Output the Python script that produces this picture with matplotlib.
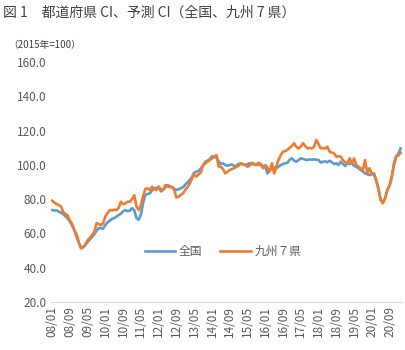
import matplotlib.pyplot as plt
import numpy as np

plt.rcParams["font.family"] = ["Noto Sans CJK JP", "DejaVu Sans"]

# 月次データ 2008/01 - 2021/02
zenkoku = [
    73.6, 73.4, 73.5, 72.8, 72.0, 71.2, 70.0, 68.8, 67.0, 64.5, 62.0, 58.0,   # 2008
    54.5, 51.5, 52.0, 53.5, 55.0, 56.5, 58.0, 59.5, 61.5, 63.2, 63.0, 62.8,   # 2009
    65.0, 66.5, 67.5, 68.5, 69.0, 69.8, 70.8, 71.5, 73.0, 73.6, 73.0, 73.3,   # 2010
    74.8, 73.5, 69.0, 68.0, 71.0, 78.0, 82.4, 83.0, 83.4, 85.0, 86.3, 86.5,   # 2011
    87.2, 84.5, 85.5, 86.8, 88.2, 87.5, 87.0, 86.0, 85.3, 85.8, 86.3, 87.0,   # 2012
    88.5, 89.8, 91.2, 93.0, 95.5, 96.0, 96.5, 98.0, 99.5, 101.8, 102.5, 103.2,  # 2013
    105.0, 104.4, 104.8, 102.0, 100.5, 100.9, 99.9, 99.5, 99.9, 100.2, 99.3, 99.5,  # 2014
    100.5, 100.9, 100.3, 99.9, 100.4, 100.9, 100.6, 100.2, 100.5, 100.0, 99.9, 99.3,  # 2015
    99.0, 95.0, 97.0, 98.0, 98.3, 98.0, 99.0, 99.9, 100.5, 100.9, 101.2, 103.0,  # 2016
    103.8, 102.5, 101.8, 102.8, 103.8, 103.5, 103.0, 102.8, 103.2, 103.0, 103.2, 103.0,  # 2017
    102.8, 101.3, 101.8, 102.0, 101.5, 102.4, 101.5, 100.5, 100.9, 99.9, 101.8, 100.5,  # 2018
    99.3, 100.9, 100.5, 100.9, 99.5, 98.9, 98.0, 97.0, 96.0, 95.0, 94.5, 94.0,  # 2019
    94.7, 95.0, 91.2, 86.3, 79.5, 78.0, 80.5, 85.3, 88.2, 93.0, 101.0, 105.0,  # 2020
    106.5, 109.6,  # 2021
]
kyushu = [
    79.1, 78.0, 77.2, 76.5, 75.8, 72.5, 71.3, 70.5, 67.5, 65.5, 62.0, 59.5,   # 2008
    55.0, 51.3, 52.0, 53.5, 56.0, 57.5, 59.0, 61.0, 66.0, 65.5, 64.8, 66.0,   # 2009
    70.0, 72.0, 73.6, 73.5, 73.8, 73.6, 75.0, 78.5, 77.0, 77.6, 78.5, 78.5,   # 2010
    80.0, 82.4, 75.6, 73.6, 76.6, 82.0, 86.0, 86.3, 85.3, 87.2, 86.0, 85.3,   # 2011
    87.2, 85.8, 85.3, 88.2, 87.5, 87.0, 87.2, 85.3, 81.0, 81.4, 82.5, 83.4,   # 2012
    85.5, 87.0, 89.2, 92.0, 94.5, 93.1, 94.5, 95.5, 99.9, 100.8, 101.8, 102.8,  # 2013
    103.8, 104.8, 105.7, 99.0, 98.9, 97.5, 95.0, 96.0, 97.0, 97.5, 98.0, 98.9,  # 2014
    99.5, 100.9, 100.2, 99.9, 98.9, 99.5, 101.3, 100.5, 99.9, 101.3, 100.5, 98.0,  # 2015
    99.9, 98.5, 96.0, 100.9, 95.0, 98.9, 103.0, 105.7, 107.7, 108.0, 108.7, 110.0,  # 2016
    111.0, 112.6, 110.5, 109.6, 110.6, 112.6, 111.0, 109.6, 109.8, 109.6, 110.6, 114.5,  # 2017
    112.0, 109.6, 109.8, 109.6, 110.6, 107.7, 107.1, 106.7, 104.8, 105.0, 104.8, 102.8,  # 2018
    101.5, 100.9, 103.8, 100.9, 103.8, 99.9, 98.9, 98.0, 97.0, 102.8, 95.0, 98.0,  # 2019
    95.0, 94.0, 91.0, 85.5, 79.5, 77.6, 80.5, 85.3, 87.7, 93.1, 100.0, 104.8,  # 2020
    105.5, 107.1,  # 2021
]
tick_labels = ["08/01", "08/09", "09/05", "10/01", "10/09", "11/05", "12/01",
               "12/09", "13/05", "14/01", "14/09", "15/05", "16/01", "16/09",
               "17/05", "18/01", "18/09", "19/05", "20/01", "20/09"]
tick_step = 8

x = np.arange(len(zenkoku))
grey = "#595959"

fig = plt.figure(figsize=(4.05, 3.5), dpi=100)
ax = fig.add_axes([0.126, 0.137, 0.866, 0.686])

ax.plot(x, zenkoku, color="#5B9BD5", lw=1.9, label="全国", solid_joinstyle="round")
ax.plot(x, kyushu, color="#ED7D31", lw=1.9, label="九州７県", solid_joinstyle="round")

ax.set_xlim(-0.5, len(x) - 0.5)
ax.set_ylim(20, 160)
ax.set_yticks(np.arange(20, 161, 20))
ax.set_yticklabels(["%.1f" % v for v in np.arange(20, 161, 20)], fontsize=8.5, color=grey)
ax.set_xticks(x[::tick_step][:len(tick_labels)])
ax.set_xticklabels(tick_labels, rotation=90, fontsize=8.5, color=grey)
ax.tick_params(length=0, pad=3)

for s in ["top", "right", "left"]:
    ax.spines[s].set_visible(False)
ax.spines["bottom"].set_color("#d9d9d9")

ax.legend(loc="center", bbox_to_anchor=(0.49, 0.21), ncol=2, frameon=False,
          fontsize=8.5, labelcolor=grey, handlelength=2.6, columnspacing=1.5,
          handletextpad=0.3)

fig.text(0.008, 0.963, "図 1　都道府県 CI、予測 CI（全国、九州 7 県）", fontsize=10,
         color="#404040", va="center")
fig.text(0.02, 0.872, "（2015年=100）", fontsize=7, color="#404040", va="center")

fig.savefig("out.png", dpi=100)
